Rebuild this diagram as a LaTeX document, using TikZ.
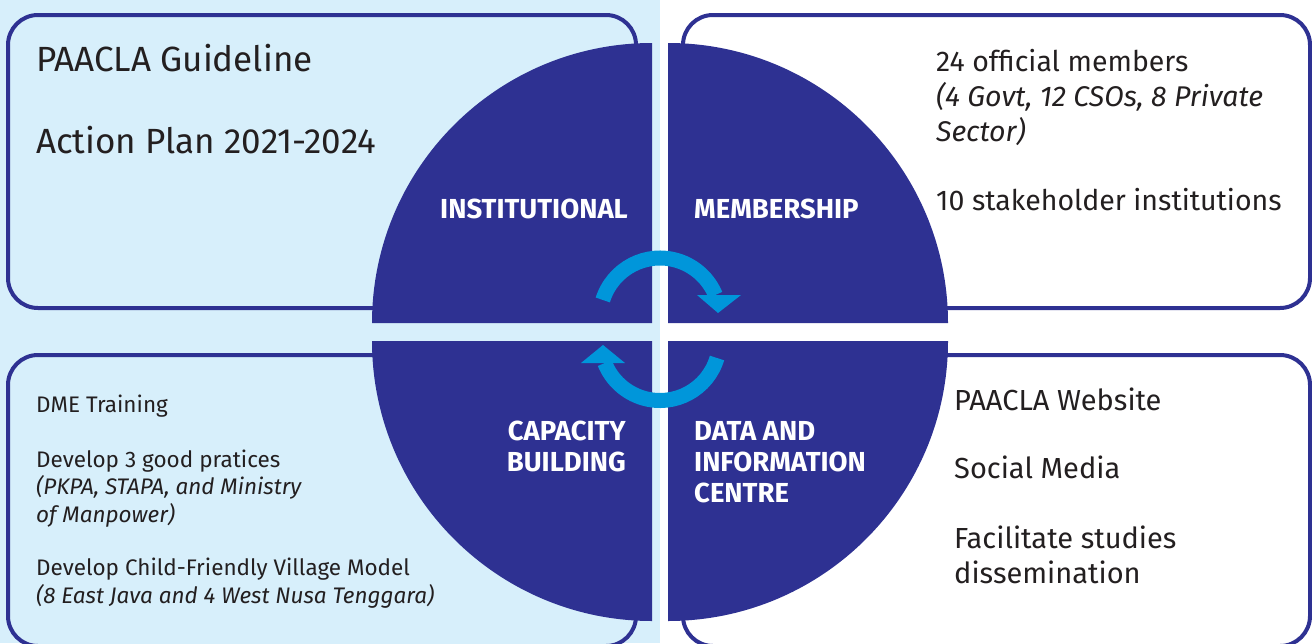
\documentclass[tikz,border=0pt]{standalone}
\usepackage{fontspec}
\setmainfont{Fira Sans}
\definecolor{navy}{RGB}{46,49,146}
\definecolor{paleblue}{RGB}{215,239,251}
\definecolor{swirlblue}{RGB}{0,150,218}
\definecolor{ink}{RGB}{35,31,32}
\tikzstyle{panel} = [draw=navy, line width=4, rounded corners=30]
\tikzstyle{quad} = [fill=navy]
\tikzstyle{cycarrow} = [draw=swirlblue, line width=15]
\tikzstyle{cychead} = [fill=swirlblue]
\tikzstyle{quadtext} = [text=white, inner sep=0, font=\bfseries\fontsize{27.5}{31}\selectfont]
\tikzstyle{bigtext} = [text=ink, inner sep=0, anchor=base west, font=\fontsize{35}{40}\selectfont]
\tikzstyle{midtext} = [text=ink, inner sep=0, anchor=base west, align=left, font=\fontsize{28.5}{35}\selectfont]
\tikzstyle{smalltext} = [text=ink, inner sep=0, anchor=base west, align=left, font=\fontsize{22.5}{27.5}\selectfont]
\tikzstyle{sidetext} = [text=ink, inner sep=0, anchor=base west, align=left, font=\fontsize{29}{35}\selectfont]
\newcommand{\quarter}[2]{\fill[quad] (#1) -- ++(#2:280) arc[start angle=#2, delta angle=90, radius=280] -- cycle;}

\begin{document}
\begin{tikzpicture}[x=1pt, y=-1pt]
	\useasboundingbox (0,0) rectangle (1312,643);
	\fill[paleblue] (0,0) rectangle (660,643);
	% the four panels
	\draw[panel, fill=paleblue] (8,15) rectangle (636,308);
	\draw[panel, fill=white] (683,15) rectangle (1310,308);
	\draw[panel, fill=paleblue] (8,355) rectangle (636,646);
	\draw[panel, fill=white] (683,355) rectangle (1310,646);
	% circle cut in four
	\quarter{652,323}{180}
	\quarter{668,323}{270}
	\quarter{668,341}{0}
	\quarter{652,341}{90}
	% cycle arrows
	\draw[cycarrow] (660,318) ++(197.5:60) arc[start angle=197.5, end angle=337.4, radius=60];
	\fill[cychead] (697,295) -- (741,295) -- (718,313) -- cycle;
	\draw[cycarrow] (660,341) ++(16.6:59.5) arc[start angle=16.6, end angle=158.3, radius=59.5];
	\fill[cychead] (625,363) -- (581,363) -- (603,345) -- cycle;
	% quadrant titles (base = last line)
	\node[quadtext, anchor=base east] (inst) at (628,218) {INSTITUTIONAL};
	\node[quadtext, anchor=base west] (memb) at (694,218) {MEMBERSHIP};
	\node[quadtext, anchor=base east, align=right] (capa) at (626,471) {CAPACITY\\BUILDING};
	\node[quadtext, anchor=base west, align=left] (data) at (694,502) {DATA AND\\INFORMATION\\CENTRE};
	% panel texts
	\node[bigtext] (guide) at (36,71) {PAACLA Guideline};
	\node[bigtext] (plan) at (36,153) {Action Plan 2021-2024};
	\node[midtext] (members) at (936,141) {24 official members\\\textit{(4 Govt, 12 CSOs, 8 Private}\\\textit{Sector)}};
	\node[midtext] (stake) at (936,210) {10 stakeholder institutions};
	\node[smalltext] (dme) at (36,412) {DME Training};
	\node[smalltext] (good) at (36,522) {Develop 3 good pratices\\\textit{(PKPA, STAPA, and Ministry}\\\textit{of Manpower)}};
	\node[smalltext] (village) at (36,603) {Develop Child-Friendly Village Model\\\textit{(8 East Java and 4 West Nusa Tenggara)}};
	\node[sidetext] (web) at (954,410) {PAACLA Website};
	\node[sidetext] (social) at (954,478) {Social Media};
	\node[sidetext] (studies) at (954,583) {Facilitate studies\\dissemination};
\end{tikzpicture}
\end{document}
